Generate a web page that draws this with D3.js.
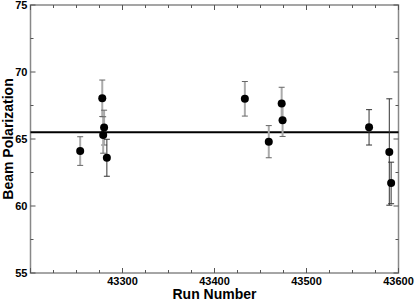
<!DOCTYPE html>
<html><head><meta charset="utf-8">
<script src="https://cdn.jsdelivr.net/npm/d3@7"></script>
<style>body{margin:0;background:#fff}svg{display:block;font-family:"Liberation Sans",Arial,sans-serif}</style>
</head><body><svg id="c" width="415" height="300"></svg>
<script>
const runs = [43254, 43278, 43280, 43279, 43283, 43433, 43459, 43473, 43474, 43568, 43590, 43592];
const polarization = [64.1, 68.04, 65.85, 65.3, 63.6, 68.0, 64.8, 67.64, 66.39, 65.87, 64.03, 61.72];
const errors = [1.07, 1.36, 1.3, 1.36, 1.38, 1.29, 1.2, 1.22, 1.2, 1.32, 3.97, 1.55];
const darkBars = [false, false, false, false, true, false, false, false, false, true, true, true];
const meanPolarization = [65.5];
const xTicks = [43300, 43400, 43500, 43600];
const yTicks = [55, 60, 65, 70, 75];

const svg = d3.select("#c");
const L = 30.5, R = 398.5, T = 5, B = 273;
const x = d3.scaleLinear().domain([43200, 43600]).range([L, R]);
const y = d3.scaleLinear().domain([55, 75]).range([B, T]);

// frame
svg.append("rect").attr("x", L).attr("y", T).attr("width", R - L).attr("height", B - T)
  .attr("fill", "none").attr("stroke", "#888").attr("stroke-width", 1.5);

// ticks
const xMinor = d3.range(43225, 43600, 25).filter(v => v % 100 !== 0);
const yMinor = d3.range(57.5, 75, 5);
const tk = svg.append("g").attr("stroke", "#555").attr("stroke-width", 1);
xTicks.concat([43200]).forEach(v => {
  tk.append("line").attr("x1", x(v)).attr("x2", x(v)).attr("y1", B).attr("y2", B - 5);
  tk.append("line").attr("x1", x(v)).attr("x2", x(v)).attr("y1", T).attr("y2", T + 5);
});
xMinor.forEach(v => {
  tk.append("line").attr("x1", x(v)).attr("x2", x(v)).attr("y1", B).attr("y2", B - 3);
  tk.append("line").attr("x1", x(v)).attr("x2", x(v)).attr("y1", T).attr("y2", T + 3);
});
yTicks.forEach(v => {
  tk.append("line").attr("x1", L).attr("x2", L + 5).attr("y1", y(v)).attr("y2", y(v));
  tk.append("line").attr("x1", R).attr("x2", R - 5).attr("y1", y(v)).attr("y2", y(v));
});
yMinor.forEach(v => {
  tk.append("line").attr("x1", L).attr("x2", L + 3).attr("y1", y(v)).attr("y2", y(v));
  tk.append("line").attr("x1", R).attr("x2", R - 3).attr("y1", y(v)).attr("y2", y(v));
});

// tick labels
svg.selectAll(".xl").data(xTicks).enter().append("text")
  .attr("x", d => x(d)).attr("y", B + 11.5).attr("text-anchor", "middle")
  .attr("font-size", 11).attr("font-weight", "bold").text(d => d);
svg.selectAll(".yl").data(yTicks).enter().append("text")
  .attr("x", L - 3).attr("y", d => y(d) + 4).attr("text-anchor", "end")
  .attr("font-size", 11).attr("font-weight", "bold").text(d => d);

// axis titles
svg.append("text").attr("x", (L + R) / 2).attr("y", 298.5).attr("text-anchor", "middle")
  .attr("font-size", 14).attr("font-weight", "bold").text("Run Number");
svg.append("text").attr("transform", "rotate(-90)")
  .attr("x", -(T + B) / 2).attr("y", 13)
  .attr("text-anchor", "middle").attr("font-size", 14).attr("font-weight", "bold").text("Beam Polarization");

// mean line
svg.append("line").attr("x1", L).attr("x2", R).attr("y1", y(meanPolarization[0])).attr("y2", y(meanPolarization[0]))
  .attr("stroke", "#000").attr("stroke-width", 2);

// error bars
const data = runs.map((r, i) => ({r, p: polarization[i], e: errors[i], dark: darkBars[i]}));
const eb = svg.append("g");
data.forEach(d => {
  const col = d.dark ? "#333" : "#aaa";
  const w = d.dark ? 1 : 2;
  eb.append("line").attr("x1", x(d.r)).attr("x2", x(d.r)).attr("y1", y(d.p - d.e)).attr("y2", y(d.p + d.e))
    .attr("stroke", col).attr("stroke-width", w);
  [d.p - d.e, d.p + d.e].forEach(v => {
    eb.append("line").attr("x1", x(d.r) - 3).attr("x2", x(d.r) + 3).attr("y1", y(v)).attr("y2", y(v))
      .attr("stroke", d.dark ? "#333" : "#666").attr("stroke-width", 1);
  });
});

// points
svg.selectAll(".pt").data(data).enter().append("circle")
  .attr("cx", d => x(d.r)).attr("cy", d => y(d.p)).attr("r", 4).attr("fill", "#000");
</script></body></html>
